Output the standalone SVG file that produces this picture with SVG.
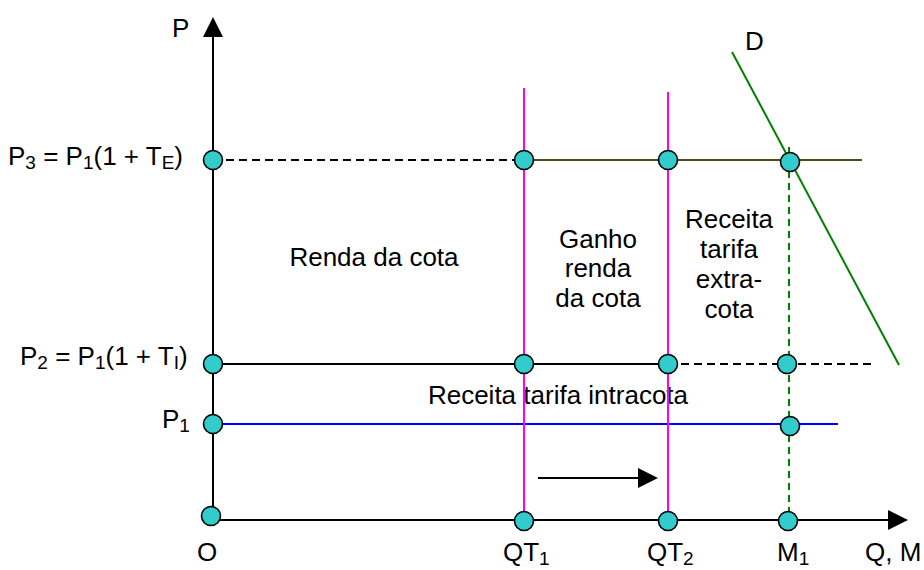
<svg xmlns="http://www.w3.org/2000/svg" width="924" height="570" viewBox="0 0 924 570">
<style>
text{font-family:"Liberation Sans",Arial,sans-serif;font-size:26px;fill:#000}
.mid{text-anchor:middle}
.sub{font-size:19px}
.ax{stroke:#000;stroke-width:2;fill:none}
.dot{fill:#33CCCC;stroke:#000;stroke-width:1.6}
.mag{stroke:#FF00FF;stroke-width:2}
.dash{stroke:#000;stroke-width:2;stroke-dasharray:8,5}
.gdash{stroke:#008000;stroke-width:2;stroke-dasharray:7,5}
</style>
<rect width="924" height="570" fill="#fff"/>
<g id="labels">
<text x="172" y="37">P</text>
<text x="745" y="50">D</text>
<text x="197" y="561">O</text>
<text x="8" y="165">P<tspan class="sub" dy="4">3</tspan><tspan dy="-4"> = P</tspan><tspan class="sub" dy="4">1</tspan><tspan dy="-4">(1 + T</tspan><tspan class="sub" dy="4">E</tspan><tspan dy="-4">)</tspan></text>
<text x="20" y="365">P<tspan class="sub" dy="4">2</tspan><tspan dy="-4"> = P</tspan><tspan class="sub" dy="4">1</tspan><tspan dy="-4">(1 + T</tspan><tspan class="sub" dy="4">I</tspan><tspan dy="-4">)</tspan></text>
<text x="162" y="428">P<tspan class="sub" dy="4">1</tspan></text>
<text x="503" y="561">QT<tspan class="sub" dy="4">1</tspan></text>
<text x="647" y="561">QT<tspan class="sub" dy="4">2</tspan></text>
<text x="777" y="561">M<tspan class="sub" dy="4">1</tspan></text>
<text x="865" y="561">Q, M</text>
<text x="374" y="266" class="mid">Renda da cota</text>
<text class="mid" x="598" y="248">Ganho</text>
<text class="mid" x="598" y="277">renda</text>
<text class="mid" x="598" y="307">da cota</text>
<text class="mid" x="729" y="228">Receita</text>
<text class="mid" x="729" y="258">tarifa</text>
<text class="mid" x="729" y="288">extra-</text>
<text class="mid" x="729" y="318">cota</text>
<text class="mid" x="558" y="404">Receita tarifa intracota</text>
</g>
<g id="connectors">
<line class="dash" x1="213" y1="160" x2="524" y2="160"/>
<line x1="524" y1="160" x2="862" y2="160" stroke="#4d4d14" stroke-width="2"/>
<line x1="213" y1="364" x2="668" y2="364" stroke="#000" stroke-width="2"/>
<line class="dash" x1="668" y1="364" x2="872" y2="364"/>
<line x1="213" y1="424" x2="838" y2="424" stroke="#0000FF" stroke-width="2"/>
<line class="mag" x1="524" y1="88" x2="524" y2="520"/>
<line class="mag" x1="668" y1="92" x2="668" y2="520"/>
<line class="gdash" x1="789" y1="147" x2="789" y2="518"/>
<line x1="732" y1="52" x2="899" y2="365" stroke="#008000" stroke-width="2"/>
<line class="ax" x1="213" y1="520" x2="213" y2="34"/>
<polygon points="213,17 203,37 223,37" fill="#000"/>
<line class="ax" x1="208" y1="520" x2="890" y2="520"/>
<polygon points="908,520 888,510 888,530" fill="#000"/>
<line class="ax" x1="538" y1="478" x2="640" y2="478"/>
<polygon points="658,478 638,468 638,488" fill="#000"/>
</g>
<g id="nodes">
<circle id="n-p3" class="dot" cx="213" cy="160" r="9.5"/>
<circle id="n-p3-qt1" class="dot" cx="524" cy="160" r="9.5"/>
<circle id="n-p3-qt2" class="dot" cx="668" cy="160" r="9.5"/>
<circle id="n-p3-m1" class="dot" cx="790" cy="162" r="9.5"/>
<circle id="n-p2" class="dot" cx="213" cy="364" r="9.5"/>
<circle id="n-p2-qt1" class="dot" cx="524" cy="364" r="9.5"/>
<circle id="n-p2-qt2" class="dot" cx="668" cy="364" r="9.5"/>
<circle id="n-p2-m1" class="dot" cx="787" cy="364" r="9.5"/>
<circle id="n-p1" class="dot" cx="213" cy="424" r="9.5"/>
<circle id="n-p1-m1" class="dot" cx="790" cy="426" r="9.5"/>
<circle id="n-o" class="dot" cx="211" cy="516" r="9.5"/>
<circle id="n-qt1" class="dot" cx="524" cy="521" r="9.5"/>
<circle id="n-qt2" class="dot" cx="668" cy="521" r="9.5"/>
<circle id="n-m1" class="dot" cx="788" cy="521" r="9.5"/>
</g>
</svg>
